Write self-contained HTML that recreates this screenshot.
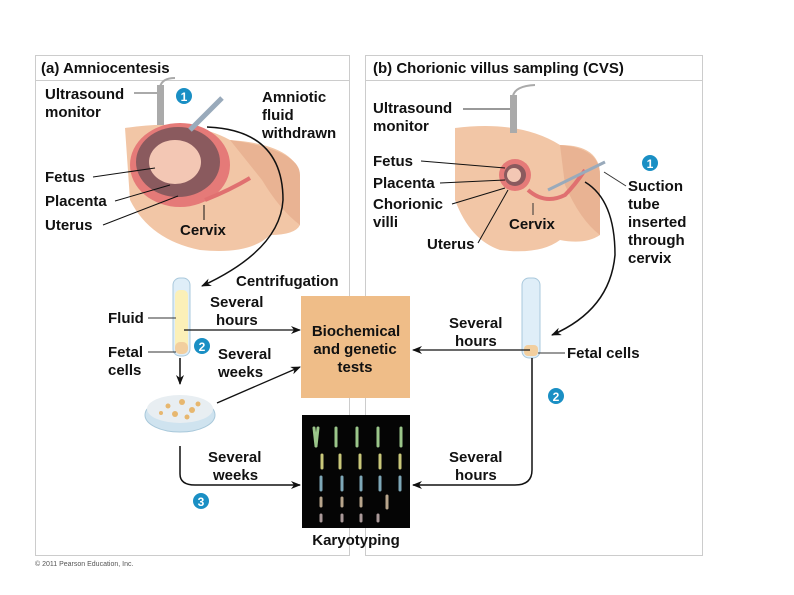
<!DOCTYPE html>
<html><head><meta charset="utf-8"><style>
body{margin:0;background:#fff}
svg{display:block}
text{font-family:"Liberation Sans",sans-serif;font-weight:bold;font-size:15px;fill:#111}
</style></head><body>
<svg width="794" height="595" viewBox="0 0 794 595">
<defs><marker id="a" markerWidth="10" markerHeight="8" refX="9" refY="4" orient="auto" markerUnits="userSpaceOnUse"><path d="M0,0 L10,4 L0,8 L3,4z" fill="#111"/></marker></defs>
<!-- panels -->
<rect x="35.5" y="55.5" width="314" height="500" fill="#fff" stroke="#ccc"/>
<line x1="36" y1="80.5" x2="349" y2="80.5" stroke="#ccc"/>
<rect x="365.5" y="55.5" width="337" height="500" fill="#fff" stroke="#ccc"/>
<line x1="366" y1="80.5" x2="702" y2="80.5" stroke="#ccc"/>
<text x="41" y="73">(a) Amniocentesis</text>
<text x="373" y="73">(b) Chorionic villus sampling (CVS)</text>
<!-- left abdomen -->
<path d="M125,128 Q190,118 230,140 Q300,145 300,180 L300,225 Q295,235 270,235 Q250,255 200,250 Q150,240 130,200 Z" fill="#f2c6a6"/>
<path d="M230,140 Q300,150 300,175 L300,225 Q280,210 262,180 Z" fill="#e9b393"/>
<ellipse cx="180" cy="165" rx="50" ry="42" fill="#e57a78"/>
<ellipse cx="178" cy="162" rx="42" ry="35" fill="#8a5a5e"/>
<ellipse cx="175" cy="162" rx="26" ry="22" fill="#f3c7b4"/>
<path d="M205,200 Q230,190 250,178" stroke="#e07070" stroke-width="4" fill="none"/>
<rect x="157" y="85" width="7" height="40" fill="#aaa"/>
<path d="M160,87 Q162,78 175,78" stroke="#aaa" stroke-width="2" fill="none"/>
<path d="M190,130 L222,98" stroke="#9ab" stroke-width="5"/>
<circle cx="184" cy="96" r="8" fill="#1a8fc4"/><text x="184" y="101" text-anchor="middle" style="fill:#fff;font-size:12px">1</text>
<text x="45" y="99">Ultrasound</text><text x="45" y="117">monitor</text>
<line x1="134" y1="93" x2="157" y2="93" stroke="#555"/>
<text x="262" y="102">Amniotic</text><text x="262" y="120">fluid</text><text x="262" y="138">withdrawn</text>
<text x="45" y="182">Fetus</text><text x="45" y="206">Placenta</text><text x="45" y="230">Uterus</text>
<line x1="93" y1="177" x2="155" y2="168" stroke="#111"/>
<line x1="115" y1="201" x2="170" y2="185" stroke="#111"/>
<line x1="103" y1="225" x2="178" y2="196" stroke="#111"/>
<text x="180" y="235">Cervix</text>
<line x1="204" y1="205" x2="204" y2="220" stroke="#111"/>
<path d="M207,127 Q283,130 283,200 Q280,250 202,286" stroke="#111" stroke-width="1.5" fill="none" marker-end="url(#a)"/>
<text x="236" y="286">Centrifugation</text>
<!-- left tube -->
<rect x="173" y="278" width="17" height="78" rx="7" fill="#dfeef8" stroke="#a9c8dc"/>
<rect x="175" y="290" width="13" height="62" rx="5" fill="#fbf0b8"/>
<rect x="175" y="342" width="13" height="12" rx="5" fill="#f2cf9f"/>
<text x="108" y="323">Fluid</text><line x1="148" y1="318" x2="176" y2="318" stroke="#333"/>
<text x="108" y="357">Fetal</text><text x="108" y="375">cells</text><line x1="148" y1="352" x2="176" y2="352" stroke="#333"/>
<text x="210" y="307">Several</text><text x="216" y="325">hours</text>
<line x1="184" y1="330" x2="300" y2="330" stroke="#111" stroke-width="1.3" marker-end="url(#a)"/>
<circle cx="202" cy="346" r="8" fill="#1a8fc4"/><text x="202" y="351" text-anchor="middle" style="fill:#fff;font-size:12px">2</text>
<text x="218" y="359">Several</text><text x="218" y="377">weeks</text>
<line x1="180" y1="358" x2="180" y2="384" stroke="#111" stroke-width="1.5" marker-end="url(#a)"/>
<ellipse cx="180" cy="415" rx="35" ry="17" fill="#cfe3ef" stroke="#a8c8da"/>
<ellipse cx="180" cy="409" rx="33" ry="14" fill="#e8eef2"/>
<g fill="#e7b76f"><circle cx="168" cy="406" r="2.5"/><circle cx="182" cy="402" r="3"/><circle cx="192" cy="410" r="3"/><circle cx="175" cy="414" r="3"/><circle cx="187" cy="417" r="2.5"/><circle cx="198" cy="404" r="2.5"/><circle cx="161" cy="413" r="2"/></g>
<line x1="217" y1="403" x2="300" y2="367" stroke="#111" stroke-width="1.3" marker-end="url(#a)"/>
<text x="208" y="462">Several</text><text x="213" y="480">weeks</text>
<path d="M180,446 L180,474 Q180,485 195,485 L300,485" stroke="#111" stroke-width="1.5" fill="none" marker-end="url(#a)"/>
<circle cx="201" cy="501" r="8" fill="#1a8fc4"/><text x="201" y="506" text-anchor="middle" style="fill:#fff;font-size:12px">3</text>
<!-- center -->
<rect x="301" y="296" width="109" height="102" fill="#efbd88"/>
<text x="356" y="336" text-anchor="middle">Biochemical</text><text x="355" y="354" text-anchor="middle">and genetic</text><text x="355" y="372" text-anchor="middle">tests</text>
<rect x="302" y="415" width="108" height="113" fill="#050505"/>
<g stroke-width="3" stroke-linecap="round">
<g stroke="#9bc68a"><line x1="314" y1="428" x2="316" y2="446"/><line x1="318" y1="428" x2="316" y2="446"/><line x1="336" y1="428" x2="336" y2="446"/><line x1="357" y1="428" x2="357" y2="446"/><line x1="378" y1="428" x2="378" y2="446"/><line x1="401" y1="428" x2="401" y2="446"/></g>
<g stroke="#c9c87a"><line x1="322" y1="455" x2="322" y2="468"/><line x1="340" y1="455" x2="340" y2="468"/><line x1="360" y1="455" x2="360" y2="468"/><line x1="380" y1="455" x2="380" y2="468"/><line x1="400" y1="455" x2="400" y2="468"/></g>
<g stroke="#7ea8b8"><line x1="321" y1="477" x2="321" y2="490"/><line x1="342" y1="477" x2="342" y2="490"/><line x1="361" y1="477" x2="361" y2="490"/><line x1="380" y1="477" x2="380" y2="490"/><line x1="400" y1="477" x2="400" y2="490"/></g>
<g stroke="#b8a58c"><line x1="321" y1="498" x2="321" y2="506"/><line x1="342" y1="498" x2="342" y2="506"/><line x1="361" y1="498" x2="361" y2="506"/><line x1="387" y1="496" x2="387" y2="508"/></g>
<g stroke="#a99"><line x1="321" y1="515" x2="321" y2="521"/><line x1="342" y1="515" x2="342" y2="521"/><line x1="361" y1="515" x2="361" y2="521"/><line x1="378" y1="515" x2="378" y2="521"/></g>
</g>
<text x="356" y="545" text-anchor="middle">Karyotyping</text>
<!-- right abdomen -->
<path d="M455,128 Q520,120 560,145 Q600,145 600,175 L600,235 Q585,245 560,240 Q540,255 500,250 Q470,240 455,200 Z" fill="#f2c6a6"/>
<path d="M560,145 Q600,148 600,175 L600,235 Q580,220 565,185 Z" fill="#e9b393"/>
<circle cx="515" cy="175" r="16" fill="#e57a78"/><circle cx="515" cy="175" r="11" fill="#8a5a5e"/><circle cx="514" cy="175" r="7" fill="#f3c7b4"/>
<path d="M528,190 Q545,205 565,195 Q575,185 585,170" stroke="#e07070" stroke-width="4" fill="none"/>
<rect x="510" y="95" width="7" height="38" fill="#aaa"/>
<path d="M513,96 Q515,86 535,85" stroke="#aaa" stroke-width="2" fill="none"/>
<path d="M548,190 L605,162" stroke="#9ab" stroke-width="3"/>
<text x="373" y="113">Ultrasound</text><text x="373" y="131">monitor</text>
<line x1="463" y1="109" x2="510" y2="109" stroke="#333"/>
<text x="373" y="166">Fetus</text><text x="373" y="188">Placenta</text><text x="373" y="209">Chorionic</text><text x="373" y="227">villi</text>
<line x1="421" y1="161" x2="505" y2="168" stroke="#111"/>
<line x1="440" y1="183" x2="505" y2="180" stroke="#111"/>
<line x1="452" y1="204" x2="505" y2="188" stroke="#111"/>
<text x="427" y="249">Uterus</text><line x1="478" y1="243" x2="508" y2="190" stroke="#111"/>
<text x="509" y="229">Cervix</text><line x1="533" y1="203" x2="533" y2="215" stroke="#333"/>
<circle cx="650" cy="163" r="8" fill="#1a8fc4"/><text x="650" y="168" text-anchor="middle" style="fill:#fff;font-size:12px">1</text>
<text x="628" y="191">Suction</text><text x="628" y="209">tube</text><text x="628" y="227">inserted</text><text x="628" y="245">through</text><text x="628" y="263">cervix</text>
<line x1="604" y1="172" x2="626" y2="186" stroke="#333"/>
<path d="M585,182 Q615,200 615,255 Q610,310 552,335" stroke="#111" stroke-width="1.5" fill="none" marker-end="url(#a)"/>
<rect x="522" y="278" width="18" height="80" rx="7" fill="#dfeef8" stroke="#a9c8dc"/>
<rect x="524" y="345" width="14" height="11" rx="4" fill="#f2cf9f"/>
<text x="449" y="328">Several</text><text x="455" y="346">hours</text>
<line x1="530" y1="350" x2="413" y2="350" stroke="#111" stroke-width="1.3" marker-end="url(#a)"/>
<line x1="538" y1="353" x2="565" y2="353" stroke="#333"/>
<text x="567" y="358">Fetal cells</text>
<circle cx="556" cy="396" r="8" fill="#1a8fc4"/><text x="556" y="401" text-anchor="middle" style="fill:#fff;font-size:12px">2</text>
<text x="449" y="462">Several</text><text x="455" y="480">hours</text>
<path d="M532,358 L532,470 Q532,485 515,485 L413,485" stroke="#111" stroke-width="1.5" fill="none" marker-end="url(#a)"/>
<text x="35" y="566" style="font-size:7px;font-weight:normal;fill:#555">© 2011 Pearson Education, Inc.</text>
</svg>
</body></html>
